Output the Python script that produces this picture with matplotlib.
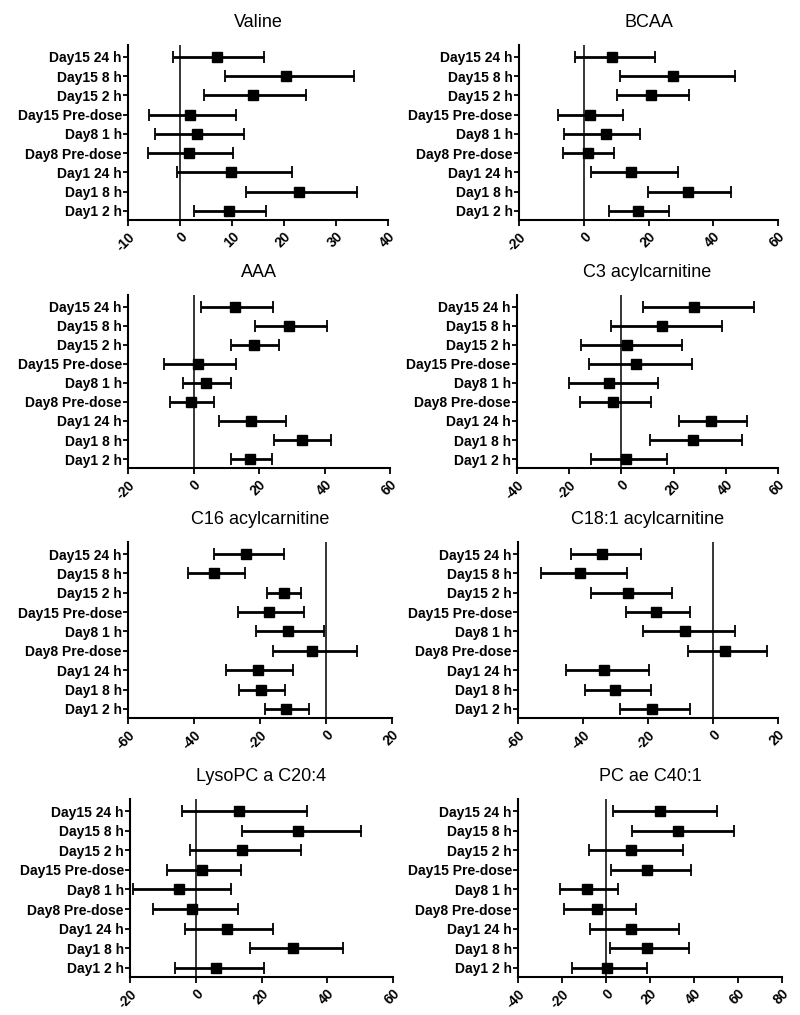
import matplotlib
matplotlib.use('Agg')
import matplotlib.pyplot as plt
import numpy as np

plt.rcParams['font.family'] = ['Liberation Sans', 'DejaVu Sans']

# categories, bottom to top
labels = ['Day1 2 h', 'Day1 8 h', 'Day1 24 h', 'Day8 Pre-dose', 'Day8 1 h',
          'Day15 Pre-dose', 'Day15 2 h', 'Day15 8 h', 'Day15 24 h']

titles = ['Valine', 'BCAA', 'AAA', 'C3 acylcarnitine', 'C16 acylcarnitine',
          'C18:1 acylcarnitine', 'LysoPC a C20:4', 'PC ae C40:1']

valine_mid = [9.4, 22.9, 9.9, 1.7, 3.3, 1.9, 14.0, 20.4, 7.1]
valine_lo = [2.6, 12.6, -0.5, -6.2, -4.8, -6.0, 4.6, 8.6, -1.3]
valine_hi = [16.5, 34.1, 21.5, 10.1, 12.3, 10.7, 24.2, 33.4, 16.2]

bcaa_mid = [16.8, 32.1, 14.6, 1.2, 6.8, 1.9, 20.7, 27.7, 8.8]
bcaa_lo = [7.9, 19.7, 2.2, -6.3, -6.1, -7.8, 10.2, 11.1, -2.7]
bcaa_hi = [26.4, 45.6, 29.0, 9.3, 17.5, 12.2, 32.4, 46.6, 21.9]

aaa_mid = [17.4, 33.0, 17.6, -0.8, 3.9, 1.3, 18.6, 29.3, 12.7]
aaa_lo = [11.4, 24.7, 7.8, -7.3, -3.3, -9.0, 11.5, 18.8, 2.4]
aaa_hi = [24.0, 41.9, 28.2, 6.2, 11.6, 12.9, 26.2, 40.7, 24.2]

c3_mid = [1.7, 27.3, 34.4, -3.2, -4.7, 5.5, 2.3, 15.5, 27.7]
c3_lo = [-11.7, 11.0, 22.0, -15.8, -20.2, -12.4, -15.3, -3.8, 8.4]
c3_hi = [17.4, 46.1, 48.1, 11.5, 13.9, 27.1, 23.2, 38.4, 50.7]

c16_mid = [-12.1, -19.7, -20.7, -4.2, -11.4, -17.4, -12.8, -33.8, -24.1]
c16_lo = [-18.6, -26.5, -30.2, -16.2, -21.2, -26.8, -17.9, -41.7, -34.0]
c16_hi = [-5.1, -12.3, -9.9, 9.5, -0.7, -6.7, -7.6, -24.6, -12.8]

c181_mid = [-18.7, -30.1, -33.5, 3.8, -8.6, -17.6, -26.2, -41.0, -34.1]
c181_lo = [-28.7, -39.5, -45.1, -7.8, -21.5, -26.8, -37.6, -52.8, -43.8]
c181_hi = [-7.0, -19.2, -19.7, 16.7, 6.7, -7.2, -12.6, -26.4, -22.2]

lyso_mid = [6.3, 29.7, 9.4, -1.0, -5.2, 1.9, 14.0, 31.1, 13.1]
lyso_lo = [-6.4, 16.4, -3.2, -13.1, -19.1, -8.8, -1.7, 14.2, -4.2]
lyso_hi = [20.8, 44.8, 23.5, 13.0, 10.8, 13.7, 31.9, 50.4, 33.7]

pcae_mid = [0.4, 18.5, 11.2, -4.0, -8.7, 18.8, 11.3, 32.9, 24.7]
pcae_lo = [-15.4, 1.8, -7.2, -19.0, -20.9, 2.1, -7.9, 11.7, 3.3]
pcae_hi = [18.8, 37.6, 33.4, 13.5, 5.6, 38.5, 35.2, 58.3, 50.4]

mids = [valine_mid, bcaa_mid, aaa_mid, c3_mid, c16_mid, c181_mid, lyso_mid, pcae_mid]
los = [valine_lo, bcaa_lo, aaa_lo, c3_lo, c16_lo, c181_lo, lyso_lo, pcae_lo]
his = [valine_hi, bcaa_hi, aaa_hi, c3_hi, c16_hi, c181_hi, lyso_hi, pcae_hi]

xlims = [(-10, 40), (-20, 60), (-20, 60), (-40, 60), (-60, 20), (-60, 20), (-20, 60), (-40, 80)]
xsteps = [10, 20, 20, 20, 20, 20, 20, 20]

# panel boxes in pixels: left, top, right, bottom
W, H = 800, 1015
boxes = [(128, 45, 388, 220), (519, 45, 778, 220),
         (128, 295, 390, 468), (517, 295, 778, 468),
         (128, 542, 392, 718), (518, 542, 778, 718),
         (130, 799, 393, 977), (518, 799, 782, 977)]

fig = plt.figure(figsize=(W / 100, H / 100), dpi=100)

for i in range(8):
    l, t, r, b = boxes[i]
    ax = fig.add_axes([l / W, 1 - b / H, (r - l) / W, (b - t) / H])
    y = np.arange(len(labels))
    mid = np.array(mids[i])
    lo = np.array(los[i])
    hi = np.array(his[i])
    ax.axvline(0, color='black', lw=1.1, zorder=1)
    ax.errorbar(mid, y, xerr=[mid - lo, hi - mid], fmt='s', color='black',
                ms=6.5, elinewidth=2, capsize=4, capthick=1.3, zorder=3)
    ax.set_xlim(*xlims[i])
    ax.set_ylim(-0.47, 8.62)
    ticks = np.arange(xlims[i][0], xlims[i][1] + 1, xsteps[i])
    ax.set_xticks(ticks)
    ax.set_xticklabels([str(v) for v in ticks], rotation=45, ha='right',
                       rotation_mode='anchor', fontsize=10, fontweight='bold')
    ax.set_yticks(y)
    ax.set_yticklabels(labels, fontsize=10, fontweight='bold')
    ax.tick_params(axis='y', length=3.5, width=1.3, pad=1)
    ax.tick_params(axis='x', length=4, width=1.3, pad=3)
    for s in ['top', 'right']:
        ax.spines[s].set_visible(False)
    for s in ['left', 'bottom']:
        ax.spines[s].set_linewidth(1.5)
    ax.set_title(titles[i], fontsize=13, pad=13)

fig.savefig('out.png', dpi=100)
